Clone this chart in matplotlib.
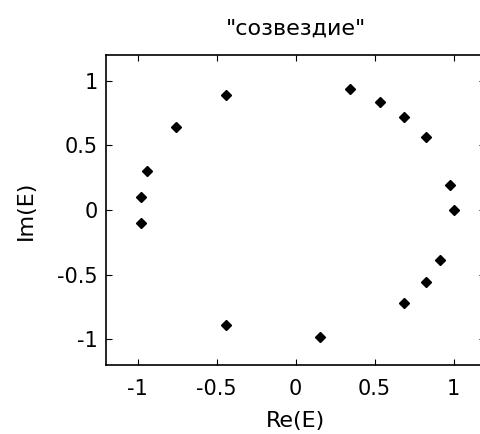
import matplotlib
matplotlib.use("Agg")
import matplotlib.pyplot as plt

# constellation points
re_e = [-0.44, -0.755, -0.944, -0.98, -0.98, -0.44, 0.153, 0.343, 0.534,
        0.683, 0.826, 0.976, 1.0, 0.913, 0.826, 0.683]
im_e = [0.89, 0.64, 0.30, 0.10, -0.10, -0.89, -0.98, 0.936, 0.84,
        0.72, 0.564, 0.195, 0.0, -0.39, -0.56, -0.72]
ticks = [-1, -0.5, 0, 0.5, 1]
tick_labels = ["-1", "-0.5", "0", "0.5", "1"]

plt.rcParams["font.family"] = ["DejaVu Sans"]

fig = plt.figure(figsize=(4.8, 4.34), dpi=100)
ax = fig.add_axes([0.221, 0.159, 0.79, 0.714])

ax.plot(re_e, im_e, "D", color="black", markersize=5, linestyle="none")

ax.set_xlim(-1.2, 1.2)
ax.set_ylim(-1.2, 1.2)
ax.set_xticks(ticks)
ax.set_xticklabels(tick_labels)
ax.set_yticks(ticks)
ax.set_yticklabels(tick_labels)
ax.tick_params(direction="in", top=True, right=True, length=4,
               labelsize=15, color="black")
ax.tick_params(axis="x", pad=10)
ax.tick_params(axis="y", pad=6)
for s in ax.spines.values():
    s.set_linewidth(1.2)

ax.set_title('"созвездие"', fontsize=16, pad=15)
ax.set_xlabel("Re(E)", fontsize=16, labelpad=9)
ax.set_ylabel("Im(E)", fontsize=16, labelpad=15)

fig.savefig("out.png", dpi=100)
